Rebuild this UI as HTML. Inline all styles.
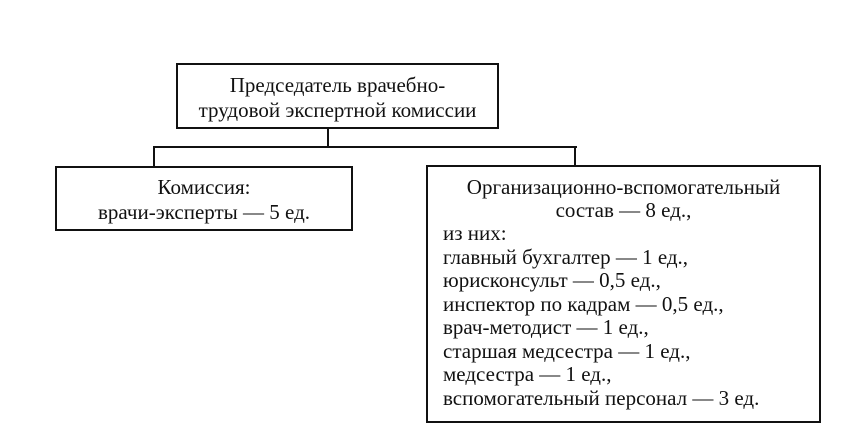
<!DOCTYPE html>
<html><head><meta charset="utf-8"><style>
body{margin:0;width:848px;height:443px;background:#fff;position:relative;overflow:hidden;font-family:"Liberation Serif","DejaVu Serif",serif;font-size:21px;color:#111}
.b{position:absolute;border:2px solid #111;box-sizing:border-box}
.l{position:absolute;background:#111}
.t{position:absolute;white-space:nowrap;line-height:22px}
</style></head><body>
<div class="b" style="left:176px;top:63px;width:323px;height:66px"></div>
<div class="l" style="left:327px;top:128px;width:2px;height:20px"></div>
<div class="l" style="left:153px;top:146px;width:424px;height:2px"></div>
<div class="l" style="left:153px;top:146px;width:2px;height:21px"></div>
<div class="l" style="left:574px;top:146px;width:2px;height:20px"></div>
<div class="b" style="left:55px;top:166px;width:298px;height:65px"></div>
<div class="b" style="left:426px;top:165px;width:395px;height:258px"></div>
<div class="t" style="left:176px;width:323px;text-align:center;top:74px">Председатель врачебно-</div>
<div class="t" style="left:176px;width:323px;text-align:center;top:99px">трудовой экспертной комиссии</div>
<div class="t" style="left:55px;width:298px;text-align:center;top:176px">Комиссия:</div>
<div class="t" style="left:55px;width:298px;text-align:center;top:201px">врачи-эксперты — 5 ед.</div>
<div class="t" style="left:426px;width:395px;text-align:center;top:176px">Организационно-вспомогательный</div>
<div class="t" style="left:426px;width:395px;text-align:center;top:199px">состав — 8 ед.,</div>
<div class="t" style="left:443px;top:222px">из них:</div>
<div class="t" style="left:443px;top:246px">главный бухгалтер — 1 ед.,</div>
<div class="t" style="left:443px;top:269px">юрисконсульт — 0,5 ед.,</div>
<div class="t" style="left:443px;top:293px">инспектор по кадрам — 0,5 ед.,</div>
<div class="t" style="left:443px;top:316px">врач-методист — 1 ед.,</div>
<div class="t" style="left:443px;top:340px">старшая медсестра — 1 ед.,</div>
<div class="t" style="left:443px;top:363px">медсестра — 1 ед.,</div>
<div class="t" style="left:443px;top:387px">вспомогательный персонал — 3 ед.</div>
</body></html>
